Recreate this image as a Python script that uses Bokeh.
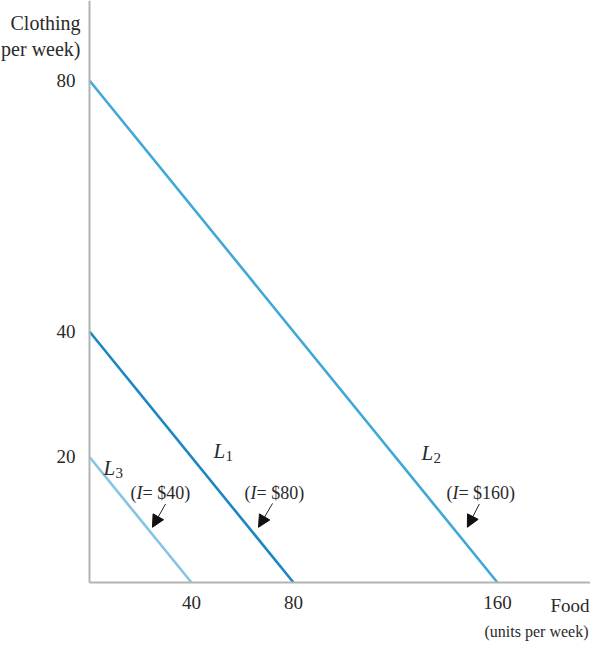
from bokeh.plotting import figure
from bokeh.models import Range1d, FixedTicker, Label, Arrow, NormalHead, LinearAxis
from bokeh.embed import file_html
from bokeh.resources import INLINE

# Budget lines: (food intercept, clothing intercept)
line_names = ["L1", "L2", "L3"]
food_max = [80, 160, 40]
clothing_max = [40, 80, 20]
incomes = ["= $80)", "= $160)", " = $40)"]
line_colors = ["#1a86c2", "#3fa8d6", "#86c3e4"]

x_ticks = [40, 80, 160]
y_ticks = [20, 40, 80]

# label anchors (data coords) for line names and income notes
name_pos_x = [48.6, 130.2, 5.5]
name_pos_y = [21.0, 20.7, 18.3]
note_pos_x = [60.8, 140.0, 16.1]
note_pos_y = [14.3, 14.3, 14.3]
arrow_tail_x = [71.8, 152.9, 29.8]
arrow_tail_y = [12.6, 12.5, 12.5]
arrow_head_x = [66.3, 148.2, 24.7]
arrow_head_y = [8.8, 8.8, 8.8]

FONT = "Liberation Serif"
TXT = "#2a2a2a"
X_END = 196.5
Y_END = 92.75

p = figure(width=590, height=648, output_backend="svg", toolbar_location=None,
           x_range=Range1d(-34.9, X_END), y_range=Range1d(-10.52, Y_END),
           x_axis_type=None, y_axis_type=None,
           min_border_left=0, min_border_right=0, min_border_top=0, min_border_bottom=0)
p.outline_line_color = None
p.xgrid.visible = False
p.ygrid.visible = False

xa = LinearAxis(fixed_location=0, bounds=(0, X_END))
ya = LinearAxis(fixed_location=0, bounds=(0, Y_END))
for ax, ticks in ((xa, x_ticks), (ya, y_ticks)):
    ax.ticker = FixedTicker(ticks=ticks)
    ax.major_tick_line_color = None
    ax.minor_tick_line_color = None
    ax.axis_line_color = "#b3b3b3"
    ax.axis_line_width = 2
    ax.major_label_text_font = FONT
    ax.major_label_text_font_size = "19px"
    ax.major_label_text_color = TXT
    ax.major_label_standoff = 8
p.add_layout(xa, "below")
p.add_layout(ya, "left")

for fm, cm, col in zip(food_max, clothing_max, line_colors):
    p.line([0, fm], [cm, 0], line_color=col, line_width=2.6)

for i, name in enumerate(line_names):
    p.add_layout(Label(x=name_pos_x[i], y=name_pos_y[i], text="L", text_font=FONT,
                       text_font_style="italic", text_font_size="21px", text_color=TXT,
                       text_baseline="middle"))
    p.add_layout(Label(x=name_pos_x[i], y=name_pos_y[i], x_offset=12, y_offset=-5,
                       text=name[1], text_font=FONT, text_font_size="15px",
                       text_color=TXT, text_baseline="middle"))
    p.add_layout(Label(x=note_pos_x[i], y=note_pos_y[i], text="(",
                       text_font=FONT, text_font_size="18px", text_color=TXT,
                       text_baseline="middle"))
    p.add_layout(Label(x=note_pos_x[i], y=note_pos_y[i], x_offset=6, text="I",
                       text_font=FONT, text_font_style="italic", text_font_size="18px",
                       text_color=TXT, text_baseline="middle"))
    p.add_layout(Label(x=note_pos_x[i], y=note_pos_y[i], x_offset=12, text=incomes[i],
                       text_font=FONT, text_font_size="18px", text_color=TXT,
                       text_baseline="middle"))
    p.add_layout(Arrow(x_start=arrow_tail_x[i], y_start=arrow_tail_y[i],
                       x_end=arrow_head_x[i], y_end=arrow_head_y[i],
                       line_color="#222222", line_width=1,
                       end=NormalHead(size=12, fill_color="#111111", line_color="#111111")))

# axis titles (screen units)
p.add_layout(Label(x=80, y=626, x_units="screen", y_units="screen", text="Clothing",
                   text_font=FONT, text_font_size="20px", text_color=TXT,
                   text_align="right", text_baseline="middle"))
p.add_layout(Label(x=80, y=600, x_units="screen", y_units="screen", text="(units per week)",
                   text_font=FONT, text_font_size="20px", text_color=TXT,
                   text_align="right", text_baseline="middle"))
p.add_layout(Label(x=589, y=43, x_units="screen", y_units="screen", text="Food",
                   text_font=FONT, text_font_size="19px", text_color=TXT,
                   text_align="right", text_baseline="middle"))
p.add_layout(Label(x=588, y=17, x_units="screen", y_units="screen", text="(units per week)",
                   text_font=FONT, text_font_size="16px", text_color=TXT,
                   text_align="right", text_baseline="middle"))

open("out.html", "w").write(file_html(p, INLINE))
